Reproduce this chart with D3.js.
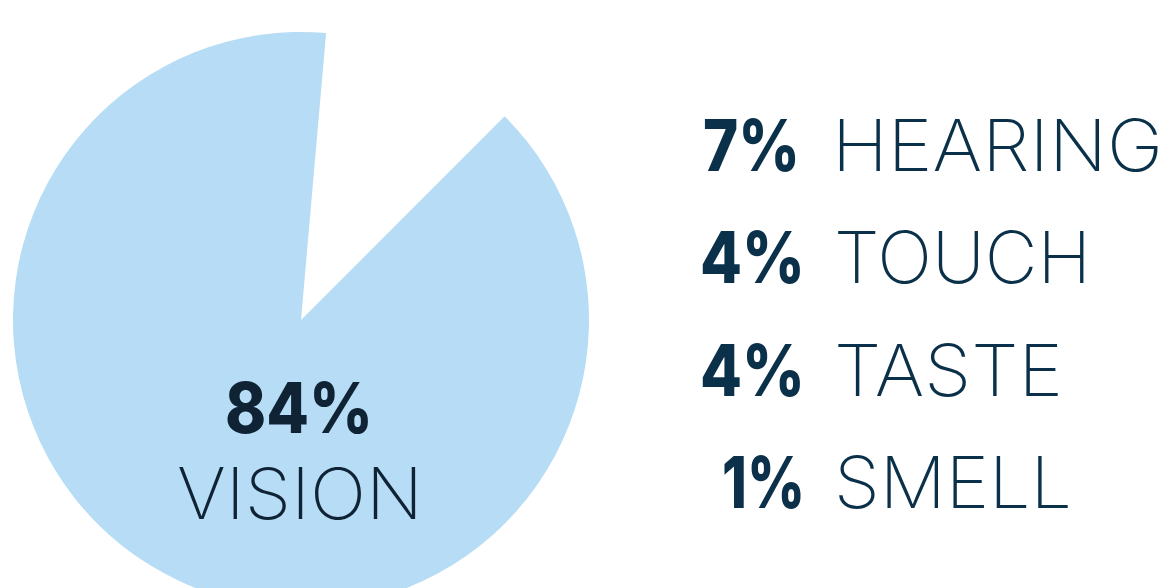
<!DOCTYPE html>
<html>
<head>
<meta charset="utf-8">
<script src="https://cdn.jsdelivr.net/npm/d3@7"></script>
<style>
  html, body { margin: 0; padding: 0; background: #ffffff; }
  svg { display: block; }
</style>
</head>
<body>
<svg id="chart" width="1169" height="588"></svg>
<script>
// ---- data ----
const senses = ["VISION", "HEARING", "TOUCH", "TASTE", "SMELL"];
const shares = [84, 7, 4, 4, 1];
const pctLabels = ["84%", "7%", "4%", "4%", "1%"];

// ---- layout ----
const cx = 301, cy = 320, R = 288;
const deg = Math.PI / 180;

const svg = d3.select("#chart");

// angle scale for the highlighted (vision) slice, as drawn in the picture: 45° → 365°
const angle = d3.scaleLinear().domain([0, shares[0]]).range([45 * deg, 365 * deg]);
const arc = d3.arc().innerRadius(0).outerRadius(R);

svg.append("g")
  .attr("transform", `translate(${cx},${cy})`)
  .selectAll("path")
  .data([{ name: senses[0], value: shares[0] }])
  .join("path")
  .attr("d", d => arc({ startAngle: angle(0), endAngle: angle(d.value) }))
  .attr("fill", "#b7dcf5");

// centre label
svg.append("text")
  .attr("x", 299).attr("y", 433)
  .attr("text-anchor", "middle")
  .attr("font-family", "Inter, 'Noto Sans', sans-serif")
  .attr("font-weight", 800)
  .attr("font-size", 70)
  .attr("fill", "#0f2335")
  .attr("textLength", 148).attr("lengthAdjust", "spacingAndGlyphs")
  .text(pctLabels[0]);

svg.append("text")
  .attr("x", 300).attr("y", 519)
  .attr("text-anchor", "middle")
  .attr("font-family", "Inter, 'Noto Sans', sans-serif")
  .attr("font-weight", 250)
  .attr("font-size", 71)
  .attr("fill", "#0f2335")
  .attr("textLength", 246).attr("lengthAdjust", "spacingAndGlyphs")
  .text(senses[0]);

// right-side list
const rows = d3.range(1, senses.length);
const y = d3.scalePoint().domain(rows).range([171, 508]);
const labelWidths = { HEARING: 331, TOUCH: 257, TASTE: 229, SMELL: 238 };
const pctWidths = { 1: 97, 2: 105, 3: 105, 4: 83 };

const g = svg.append("g");
g.selectAll("text.pct")
  .data(rows)
  .join("text")
  .attr("class", "pct")
  .attr("x", i => i === 1 ? 800 : 805)
  .attr("y", i => y(i))
  .attr("text-anchor", "end")
  .attr("font-family", "Inter, 'Noto Sans', sans-serif")
  .attr("font-weight", 800)
  .attr("font-size", 72)
  .attr("fill", "#0b3049")
  .attr("textLength", i => pctWidths[i]).attr("lengthAdjust", "spacingAndGlyphs")
  .text(i => pctLabels[i]);

g.selectAll("text.lbl")
  .data(rows)
  .join("text")
  .attr("class", "lbl")
  .attr("x", i => i === 1 ? 832 : 834)
  .attr("y", i => y(i))
  .attr("font-family", "Inter, 'Noto Sans', sans-serif")
  .attr("font-weight", 250)
  .attr("font-size", 72)
  .attr("fill", "#0b3049")
  .attr("textLength", i => labelWidths[senses[i]]).attr("lengthAdjust", "spacingAndGlyphs")
  .text(i => senses[i]);
</script>
</body>
</html>
